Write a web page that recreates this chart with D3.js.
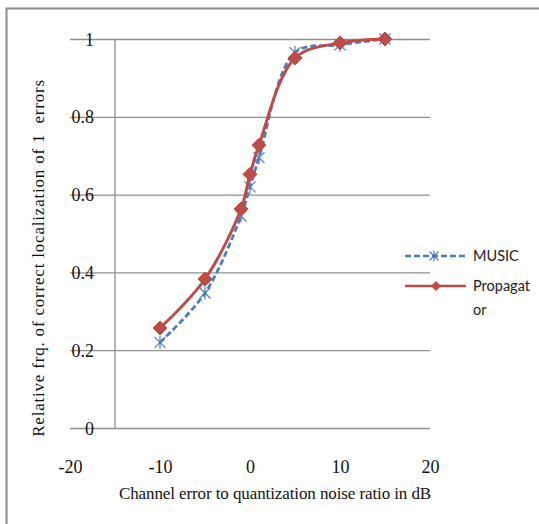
<!DOCTYPE html>
<html>
<head>
<meta charset="utf-8">
<script src="https://cdn.jsdelivr.net/npm/d3@7"></script>
<style>
  html, body { margin: 0; padding: 0; background: #fff; }
  svg { display: block; }
  text { white-space: pre; }
</style>
</head>
<body>
<svg id="chart" width="539" height="524"></svg>
<script>
// Channel error to quantization noise ratio (dB)
const snr = [-10, -5, -1, 0, 1, 5, 10, 15];
const musicValues = [0.22, 0.347, 0.545, 0.62, 0.695, 0.965, 0.985, 1.0];
const propagatorValues = [0.257, 0.383, 0.563, 0.652, 0.727, 0.951, 0.99, 1.0];
const xTicks = [-20, -10, 0, 10, 20];
const yTicks = [0, 0.2, 0.4, 0.6, 0.8, 1];
const seriesNames = ["MUSIC", "Propagator"];

const svg = d3.select("#chart");
const W = 539, H = 524;
const serif = "'Liberation Serif', 'DejaVu Serif', serif";

const x = d3.scaleLinear().domain([-20, 20]).range([70, 430]);
const y = d3.scaleLinear().domain([0, 1]).range([428, 39]);

// frame
svg.append("path")
  .attr("d", `M6.5,${H} L6.5,8.5 L${W},8.5`)
  .attr("fill", "none").attr("stroke", "#8c8c8c").attr("stroke-width", 2);

// horizontal gridlines across the full x range
const yAxis = d3.axisLeft(y).tickValues(yTicks).tickSize(-(x(20) - x(-20)))
  .tickFormat(d => String(d));
const gy = svg.append("g").attr("transform", `translate(${x(-20)},0)`).call(yAxis);
gy.select(".domain").remove();
gy.selectAll(".tick line").attr("stroke", "#8f8f8f").attr("stroke-width", 1.3);
gy.selectAll(".tick text")
  .attr("font-family", serif)
  .attr("font-size", 18).attr("fill", "#111").attr("text-anchor", "end")
  .attr("x", 24).attr("dy", "0.34em");

// vertical axis line at x = -15
svg.append("line")
  .attr("x1", x(-15)).attr("x2", x(-15)).attr("y1", y(1)).attr("y2", y(0))
  .attr("stroke", "#8f8f8f").attr("stroke-width", 1.3);

// x tick labels
const xAxis = d3.axisBottom(x).tickValues(xTicks).tickSize(0).tickPadding(0)
  .tickFormat(d => String(d));
const gx = svg.append("g").attr("transform", `translate(0,${y(0)})`).call(xAxis);
gx.select(".domain").remove();
gx.selectAll(".tick text")
  .attr("font-family", serif)
  .attr("font-size", 18).attr("fill", "#111")
  .attr("y", 45).attr("dy", 0);

// axis titles
svg.append("text")
  .attr("x", 275).attr("y", 499).attr("text-anchor", "middle")
  .attr("font-family", serif)
  .attr("font-size", 17).attr("letter-spacing", -0.1).attr("fill", "#111")
  .text("Channel error to quantization noise ratio in dB");

svg.append("text")
  .attr("transform", "translate(44,258) rotate(-90)")
  .attr("text-anchor", "middle")
  .attr("font-family", serif)
  .attr("font-size", 17).attr("letter-spacing", 0.8).attr("fill", "#111")
  .text("Relative frq. of correct localization of 1  errors");

const line = d3.line().x(d => x(d[0])).y(d => y(d[1])).curve(d3.curveCatmullRom);
const musicPts = snr.map((s, i) => [s, musicValues[i]]);
const propPts = snr.map((s, i) => [s, propagatorValues[i]]);

const blue = "#4a7ebb", red = "#be4b48";

function starMarker(g, cx, cy, r) {
  g.append("path")
    .attr("d", `M${cx - r},${cy - r}L${cx + r},${cy + r}M${cx - r},${cy + r}L${cx + r},${cy - r}M${cx},${cy - r * 1.2}L${cx},${cy + r * 1.2}`)
    .attr("stroke", blue).attr("stroke-width", 1.2).attr("fill", "none");
}
function diamondMarker(g, cx, cy, r) {
  g.append("path")
    .attr("d", `M${cx},${cy - r}L${cx + r},${cy}L${cx},${cy + r}L${cx - r},${cy}Z`)
    .attr("fill", red).attr("stroke", red).attr("stroke-width", 1);
}

// MUSIC series
const gm = svg.append("g");
gm.append("path").attr("d", line(musicPts)).attr("fill", "none")
  .attr("stroke", blue).attr("stroke-width", 2.75).attr("stroke-dasharray", "6,3");
musicPts.forEach(p => starMarker(gm, x(p[0]), y(p[1]), 5.5));

// Propagator series
const gp = svg.append("g");
gp.append("path").attr("d", line(propPts)).attr("fill", "none")
  .attr("stroke", red).attr("stroke-width", 3);
propPts.forEach(p => diamondMarker(gp, x(p[0]), y(p[1]), 7));

// legend
const lg = svg.append("g");
lg.append("line").attr("x1", 405).attr("x2", 465).attr("y1", 256).attr("y2", 256)
  .attr("stroke", blue).attr("stroke-width", 2.5).attr("stroke-dasharray", "6,3");
starMarker(lg, 434, 256, 4.5);
lg.append("text").attr("x", 473).attr("y", 261)
  .attr("font-family", "Lato, 'Open Sans', sans-serif").attr("font-size", 14.5).attr("fill", "#222")
  .text(seriesNames[0]);

lg.append("line").attr("x1", 405).attr("x2", 466).attr("y1", 286).attr("y2", 286)
  .attr("stroke", red).attr("stroke-width", 2.5);
diamondMarker(lg, 436, 286, 4.5);
const pt = lg.append("text")
  .attr("font-family", "Lato, 'Open Sans', sans-serif").attr("font-size", 14.5).attr("fill", "#222");
pt.append("tspan").attr("x", 473).attr("y", 291).text(seriesNames[1].slice(0, 8));
pt.append("tspan").attr("x", 473).attr("y", 315).text(seriesNames[1].slice(8));
</script>
</body>
</html>
